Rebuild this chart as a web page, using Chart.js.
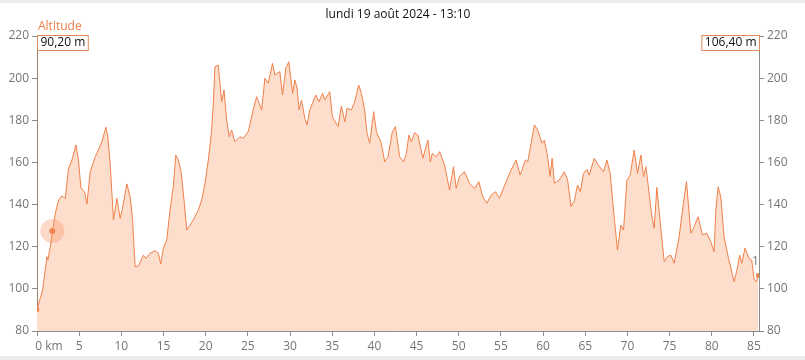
<!DOCTYPE html>
<html>
<head>
<meta charset="utf-8">
<script src="https://cdn.jsdelivr.net/npm/chart.js@4/dist/chart.umd.min.js"></script>
<style>
    body { margin: 0; background: #fff; }
    canvas { display: block; }
</style>
</head>
<body>
<canvas id="profile-chart" width="805" height="360"></canvas>
<script>
// distance (km) / altitude (m)
const distKm = [
    0, 0.66, 1.18, 1.30, 1.57, 1.85, 2.17, 2.56, 2.96, 3.35, 3.74, 4.14, 4.62, 4.92, 5.21, 5.63, 5.92,
    6.31, 6.90, 7.10, 7.69, 8.17, 8.40, 8.67, 9.07, 9.47, 9.86, 10.13, 10.65, 11.04, 11.31, 11.63,
    12.02, 12.62, 12.90, 13.41, 14.00, 14.39, 14.67, 14.98, 15.38, 15.77, 16.16, 16.45, 16.76, 17.08,
    17.47, 17.75, 18.02, 18.53, 19.12, 19.53, 19.92, 20.31, 20.71, 20.90, 21.10, 21.49, 21.89, 22.17,
    22.49, 22.79, 23.08, 23.47, 24.06, 24.45, 25.04, 25.63, 26.04, 26.63, 27.02, 27.41, 27.93, 28.20,
    28.47, 28.79, 29.11, 29.50, 29.86, 30.30, 30.57, 30.84, 31.08, 31.36, 31.75, 32.02, 32.34, 33.05,
    33.44, 33.85, 34.12, 34.71, 35.03, 35.69, 36.09, 36.49, 36.76, 37.28, 37.67, 38.14, 38.46, 38.85,
    39.13, 39.44, 39.92, 40.24, 40.83, 41.22, 41.61, 42.13, 42.49, 42.67, 42.99, 43.47, 43.79, 44.09,
    44.38, 44.77, 45.16, 45.75, 46.34, 46.63, 46.86, 47.34, 47.73, 48.32, 48.91, 49.38, 49.70, 50.09,
    50.68, 51.28, 51.87, 52.38, 52.85, 53.33, 53.85, 54.36, 54.83, 55.62, 56.21, 56.80, 57.28, 57.90,
    58.18, 58.58, 58.97, 59.36, 59.88, 60.15, 60.54, 60.83, 61.07, 61.34, 61.93, 62.52, 62.91, 63.31,
    63.70, 64.09, 64.41, 64.80, 65.20, 65.47, 66.07, 66.54, 67.17, 67.57, 67.96, 68.35, 68.82, 69.22,
    69.54, 69.94, 70.33, 70.80, 71.20, 71.60, 71.91, 72.19, 72.58, 72.85, 73.17, 73.49, 73.88, 74.36,
    74.75, 75.15, 75.54, 76.13, 76.64, 77.00, 77.52, 77.91, 78.38, 78.89, 79.41, 79.88, 80.28, 80.48,
    80.75, 81.07, 81.46, 81.94, 82.65, 83.03, 83.31, 83.55, 83.94, 84.42, 84.73, 85.04, 85.28, 85.51
];
const altitudeM = [
    90.2, 99.4, 115.3, 113.7, 120, 127.1, 135.9, 142.2, 144.1, 143, 157.2, 161.1, 168.3, 161.1, 147.7, 146.1, 140.3,
    155.6, 162.7, 164.3, 169.8, 176.7, 172.2, 159.6, 132.7, 143, 133.5, 138.2, 149.8, 143.7, 134.2, 110.5,
    110.8, 116, 114.5, 116.9, 118.1, 116.9, 111.8, 119.3, 123.2, 137.4, 148.5, 163.5, 161.1, 155.6,
    140.6, 127.9, 129.5, 132.7, 137.4, 142.2, 150.1, 161.1, 175.4, 188, 205.4, 206.2, 188.8, 194.4,
    180.1, 172.2, 175.4, 169.8, 172.2, 171.4, 174.6, 184.9, 191.2, 184.9, 199.9, 197.6, 207.0, 201.5,
    202.3, 203.1, 192.0, 204.7, 207.8, 192.8, 199.1, 195.2, 184.9, 189.6, 181.0, 177.8, 184.9, 192.0,
    188.8, 192.8, 189.6, 193.6, 181.7, 177.0, 186.8, 179.3, 185.7, 184.9, 188.8, 196.7, 192.8, 184.9,
    173.8, 169.1, 184.1, 174.6, 169.1, 160.3, 162.7, 174.6, 177.0, 172.2, 162.7, 160.3, 164.3, 173.0,
    169.8, 174.1, 173.0, 162.0, 170.6, 160.3, 164.3, 162.7, 165.1, 158.8, 146.9, 158.0, 147.7, 153.3,
    155.6, 150.1, 147.7, 150.9, 143.7, 140.6, 144.5, 146.1, 143, 150.9, 156.4, 161.1, 154, 161.1,
    160.3, 169.1, 177.8, 175.4, 169.1, 170.6, 162.7, 153.3, 162.0, 150.1, 151.7, 155.6, 151.7, 139.0,
    141.8, 149.3, 146.1, 154.8, 156.7, 154, 162.0, 158.8, 155.6, 161.1, 154.8, 137.4, 118.4, 130.3,
    127.9, 151.7, 154, 165.9, 154.8, 163.5, 153.3, 158, 145.3, 135.9, 128.7, 148.2, 131.9, 112.9,
    115.3, 116, 112.1, 124.7, 140.6, 150.9, 126.4, 129.5, 134.2, 125.6, 126.4, 122.4, 117.6, 137.4,
    148.5, 143.7, 124.7, 115.3, 103.4, 109.7, 116, 112.1, 119.3, 114.5, 113.7, 104.2, 103.4, 106.4
];
const cursorKm = [1.81];
const cursorAlt = [127.5];
const yTicks = [80, 100, 120, 140, 160, 180, 200, 220];
const xTicks = [0, 5, 10, 15, 20, 25, 30, 35, 40, 45, 50, 55, 60, 65, 70, 75, 80, 85];

const title = 'lundi 19 août 2024 - 13:10';
const startLabel = '90,20 m';
const endLabel = '106,40 m';

const FONT = '"Open Sans", "Noto Sans", sans-serif';
const TICK_COLOR = '#757575';
const LINE_COLOR = '#f0804a';

const profile = distKm.map(function(d, i) { return { x: d, y: altitudeM[i] }; });
const cursor = cursorKm.map(function(d, i) { return { x: d, y: cursorAlt[i] }; });

// extra texts: title, altitude label, value boxes
const overlay = {
    id: 'overlay',
    beforeDraw: function(chart) {
        const c = chart.ctx;
        c.save();
        c.fillStyle = '#ececec';
        c.fillRect(0, 0, 805, 3);
        c.fillRect(0, 356, 805, 4);
        c.restore();
    },
    afterDraw: function(chart) {
        const c = chart.ctx;
        const area = chart.chartArea;
        c.save();
        c.font = '12px ' + FONT;
        c.textBaseline = 'middle';

        c.fillStyle = '#111';
        c.textAlign = 'center';
        c.fillText(title, 398, 15);

        c.fillStyle = LINE_COLOR;
        c.textAlign = 'left';
        c.fillText('Altitude', area.left + 1, 27);

        c.textAlign = 'left';
        drawBox(c, startLabel, area.left, 36, 'left');
        drawBox(c, endLabel, area.right, 36, 'right');

        c.fillStyle = TICK_COLOR;
        c.textAlign = 'left';
        c.fillText('1', 752, 262);
        c.restore();
    }
};

function drawBox(c, text, x, y, side) {
    const w = c.measureText(text).width + 6;
    const left = side === 'left' ? x : x - w;
    c.fillStyle = '#fff';
    c.fillRect(left + 0.5, y - 0.5, w, 15);
    c.strokeStyle = '#e08a5a';
    c.lineWidth = 1;
    c.strokeRect(left + 0.5, y - 0.5, w, 15);
    c.fillStyle = '#111';
    c.fillText(text, left + 3.5, y + 7);
}

const ctx = document.getElementById('profile-chart').getContext('2d');
const chart = new Chart(ctx, {
    type: 'line',
    data: {
        datasets: [{
            label: 'cursor-ring',
            data: cursor,
            showLine: false,
            pointRadius: 12,
            pointBackgroundColor: 'rgba(245, 150, 100, 0.35)',
            pointBorderWidth: 0
        }, {
            label: 'cursor',
            data: cursor,
            showLine: false,
            pointRadius: 3,
            pointBackgroundColor: LINE_COLOR,
            pointBorderWidth: 0
        }, {
            label: 'Altitude',
            data: profile,
            borderColor: LINE_COLOR,
            borderWidth: 1,
            backgroundColor: 'rgb(253, 221, 204)',
            fill: 'start',
            tension: 0,
            pointStyle: 'rect',
            pointRadius: function(c) {
                return (c.dataIndex === 0 || c.dataIndex === distKm.length - 1) ? 3 : 0;
            },
            pointBackgroundColor: LINE_COLOR,
            pointBorderWidth: 0
        }]
    },
    options: {
        responsive: false,
        animation: false,
        layout: { padding: { top: 36, left: 0, right: 0, bottom: 0 } },
        plugins: {
            legend: { display: false },
            tooltip: { enabled: false }
        },
        scales: {
            x: {
                type: 'linear',
                min: 0,
                max: 85.6,
                afterBuildTicks: function(axis) {
                    axis.ticks = xTicks.map(function(v) { return { value: v }; });
                },
                afterFit: function(axis) { axis.height = 29; },
                ticks: {
                    color: TICK_COLOR,
                    font: { family: FONT, size: 12 },
                    padding: 3,
                    maxRotation: 0,
                    autoSkip: false,
                    callback: function(v) { return v === 0 ? '\u2002\u2002\u2002\u20020 km' : String(v); }
                },
                grid: { drawOnChartArea: false, tickLength: 5, color: '#8c8c8c' },
                border: { color: '#8c8c8c' }
            },
            y: {
                position: 'left',
                min: 80,
                max: 220,
                afterBuildTicks: function(axis) {
                    axis.ticks = yTicks.map(function(v) { return { value: v }; });
                },
                afterFit: function(axis) { axis.width = 37; },
                ticks: { color: TICK_COLOR, font: { family: FONT, size: 12 }, padding: 3 },
                grid: { drawOnChartArea: false, tickLength: 5, color: '#8c8c8c' },
                border: { color: '#9a8070' }
            },
            y2: {
                position: 'right',
                min: 80,
                max: 220,
                afterBuildTicks: function(axis) {
                    axis.ticks = yTicks.map(function(v) { return { value: v }; });
                },
                afterFit: function(axis) { axis.width = 46; },
                ticks: { color: TICK_COLOR, font: { family: FONT, size: 12 }, padding: 3 },
                grid: { drawOnChartArea: false, tickLength: 5, color: '#8c8c8c' },
                border: { color: '#8c8c8c' }
            }
        }
    },
    plugins: [overlay]
});
</script>
</body>
</html>
